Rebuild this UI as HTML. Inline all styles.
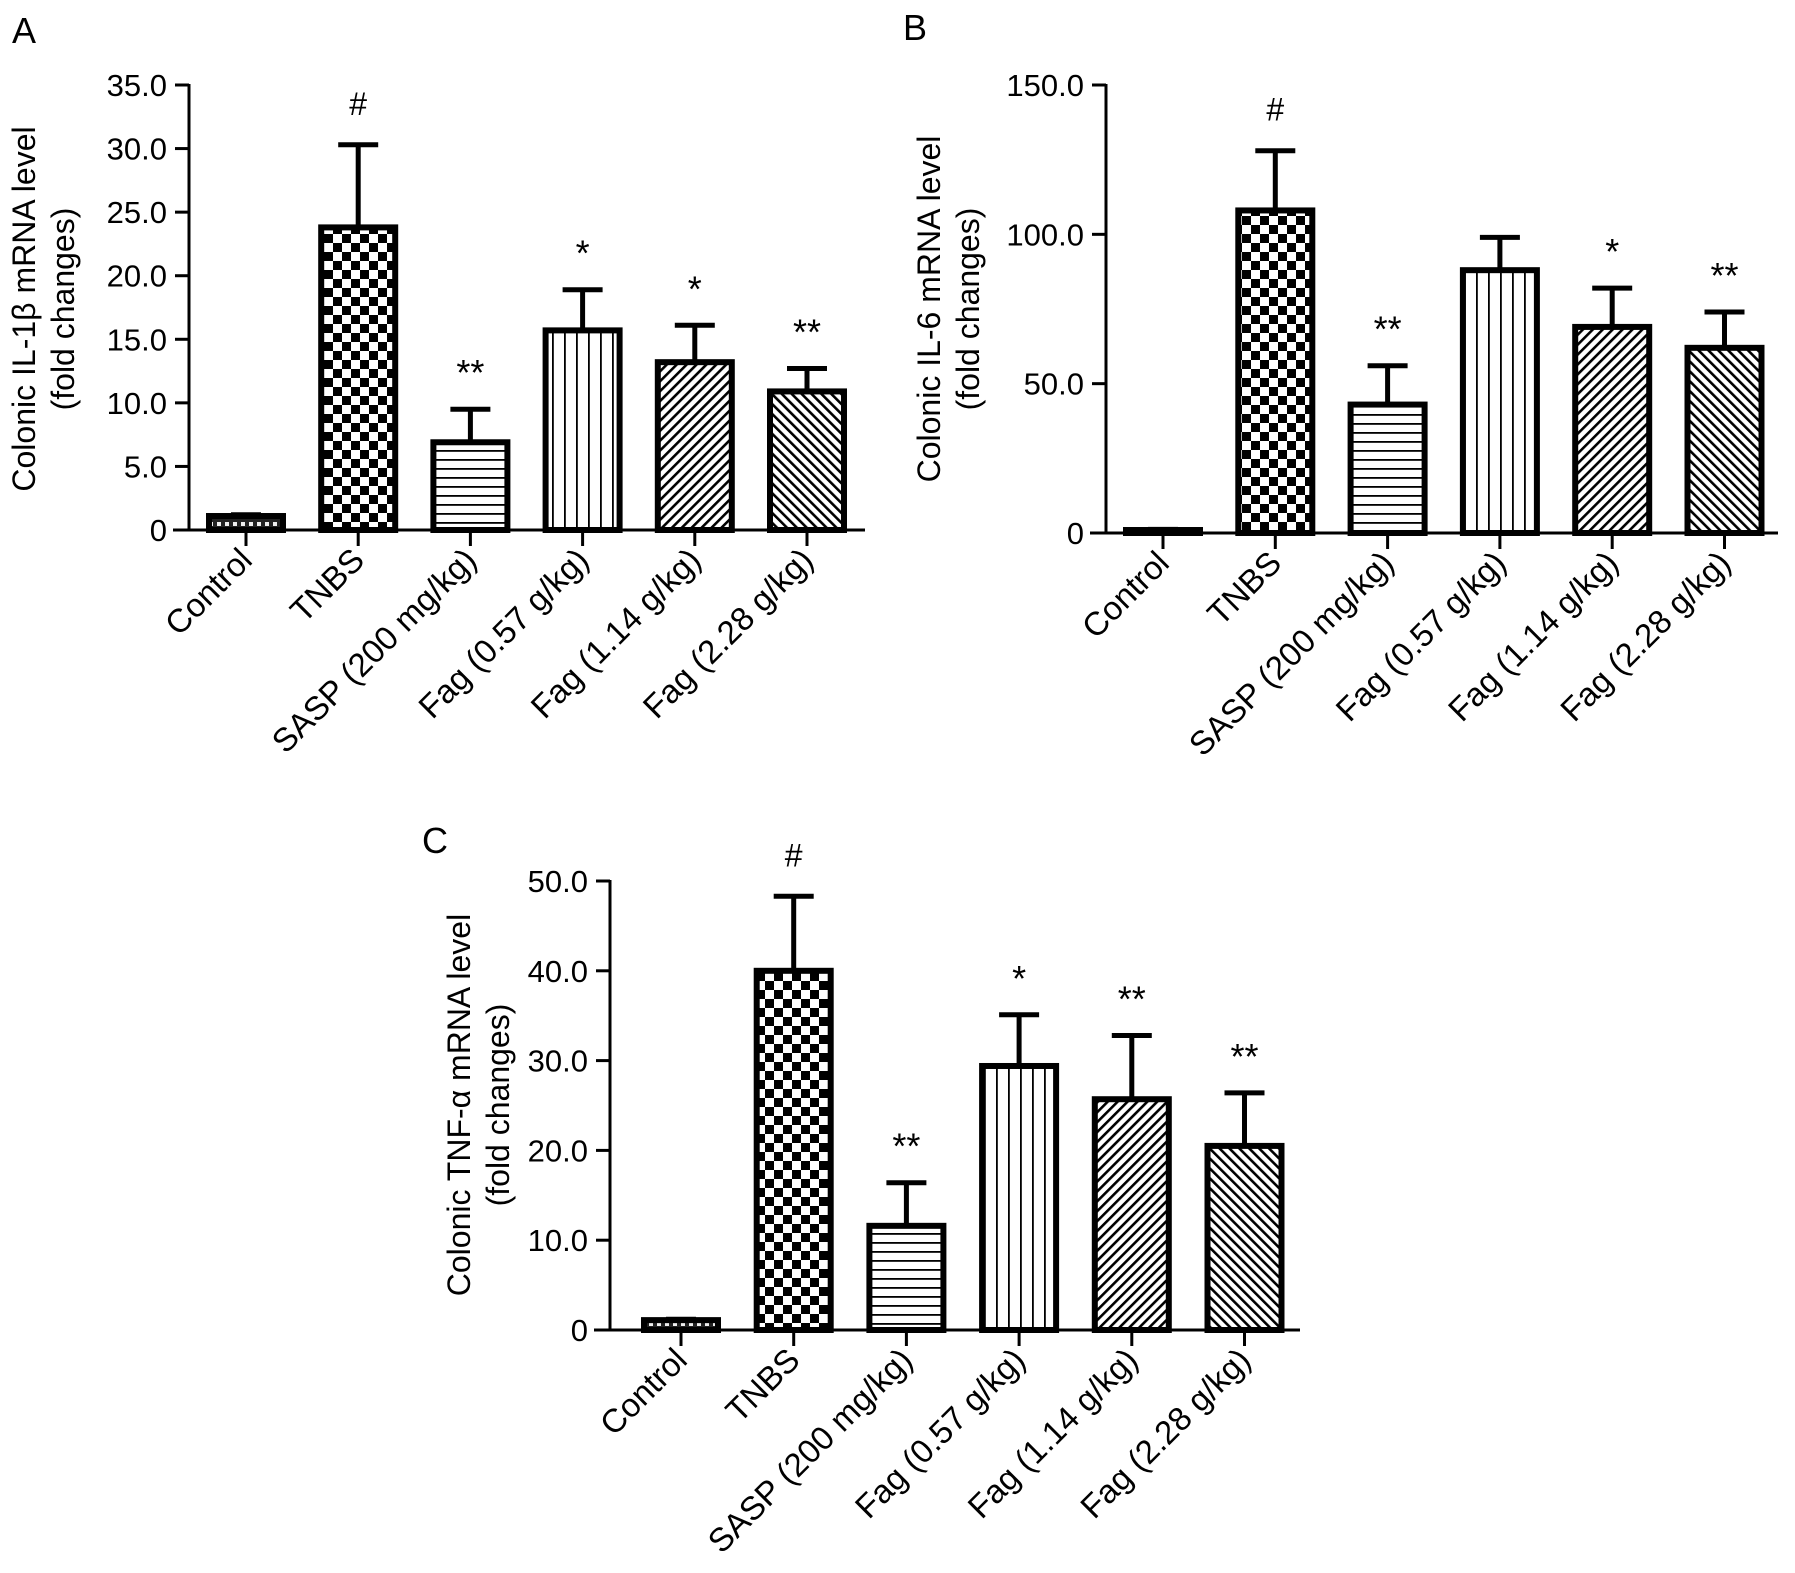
<!DOCTYPE html>
<html><head><meta charset="utf-8">
<style>
html,body{margin:0;padding:0;background:#fff;}
svg{display:block;font-family:"Liberation Sans",Arial,sans-serif;}
</style></head>
<body>
<svg id="fig" width="1795" height="1573" viewBox="0 0 1795 1573" xmlns="http://www.w3.org/2000/svg">
<defs>
<pattern id="pCtrl" width="8" height="8" patternUnits="userSpaceOnUse"><rect width="8" height="8" fill="#222"/><rect x="1" y="2" width="4" height="4" fill="#eee"/></pattern>
<pattern id="pCheck" width="18" height="18" patternUnits="userSpaceOnUse"><rect width="18" height="18" fill="#fff"/><rect width="9" height="9" fill="#000"/><rect x="9" y="9" width="9" height="9" fill="#000"/></pattern>
<pattern id="pHor" width="9" height="9" patternUnits="userSpaceOnUse"><rect width="9" height="9" fill="#fff"/><rect y="0" width="9" height="1.8" fill="#000"/></pattern>
<pattern id="pVer" width="12" height="12" patternUnits="userSpaceOnUse"><rect width="12" height="12" fill="#fff"/><rect x="0" width="1.8" height="12" fill="#000"/></pattern>
<pattern id="pFwd" width="7" height="7" patternUnits="userSpaceOnUse" patternTransform="rotate(45)"><rect width="7" height="7" fill="#fff"/><rect width="2.6" height="7" fill="#000"/></pattern>
<pattern id="pBack" width="7" height="7" patternUnits="userSpaceOnUse" patternTransform="rotate(-45)"><rect width="7" height="7" fill="#fff"/><rect width="2.6" height="7" fill="#000"/></pattern>
</defs>
</svg>
<script>
const categories = ["Control","TNBS","SASP (200 mg/kg)","Fag (0.57 g/kg)","Fag (1.14 g/kg)","Fag (2.28 g/kg)"];
const meansA = [1.1, 23.8, 6.9, 15.7, 13.2, 10.9];
const errTopA = [1.2, 30.3, 9.5, 18.9, 16.1, 12.7];
const sigA = ["", "#", "**", "*", "*", "**"];
const ticksA = [0, 5, 10, 15, 20, 25, 30, 35];
const tickLabelsA = ["0","5.0","10.0","15.0","20.0","25.0","30.0","35.0"];
const meansB = [1, 108, 43, 88, 69, 62];
const errTopB = [1.2, 128, 56, 99, 82, 74];
const sigB = ["", "#", "**", "", "*", "**"];
const ticksB = [0, 50, 100, 150];
const tickLabelsB = ["0","50.0","100.0","150.0"];
const meansC = [1.1, 40, 11.6, 29.4, 25.7, 20.5];
const errTopC = [1.2, 48.3, 16.4, 35.1, 32.8, 26.4];
const sigC = ["", "#", "**", "*", "**", "**"];
const ticksC = [0, 10, 20, 30, 40, 50];
const tickLabelsC = ["0","10.0","20.0","30.0","40.0","50.0"];
const fills = ["url(#pCtrl)","url(#pCheck)","url(#pHor)","url(#pVer)","url(#pFwd)","url(#pBack)"];

const NS = "http://www.w3.org/2000/svg";
const svg = document.getElementById("fig");
function mk(tag, attrs, parent){
  const e = document.createElementNS(NS, tag);
  for (const k in attrs) e.setAttribute(k, attrs[k]);
  (parent||svg).appendChild(e); return e;
}

function panel(o){
  const g = mk("g", {});
  
  
  const yS = v => o.y0 - (v - 0) / o.max * (o.y0 - o.yTop);
  const xS = i => o.x1 + i * o.step;
  const L = mk("text", {x:o.lx, y:o.ly, "font-size":36}, g);
  L.textContent = o.letter;
  
  
  const t = mk("text", {transform:`translate(${o.tx},${o.ty}) rotate(-90)`, "font-size":32, "text-anchor":"middle"}, g);
  
  
  const s1 = mk("tspan", {x:0, y:0}, t); s1.textContent = o.title;
  const s2 = mk("tspan", {x:0, y:39}, t); s2.textContent = "(fold changes)";
  o.means.forEach((m, i) => {
    const cx = xS(i), w = 74;
    const r = mk("rect", {x:cx - w/2, y:yS(m), width:w, height:o.y0 - yS(m), fill:fills[i], stroke:"#000", "stroke-width":6}, g);
    
    
    const e = mk("line", {x1:cx, x2:cx, y1:yS(m), y2:yS(o.err[i]), stroke:"#000", "stroke-width":5}, g);
    
    
    const cw = i === 0 ? 30 : 40;
    const c = mk("line", {x1:cx - cw/2, x2:cx + cw/2, y1:yS(o.err[i]), y2:yS(o.err[i]), stroke:"#000", "stroke-width":5}, g);
    
    
    if (o.sig[i]) {
      const st = mk("text", {x:cx, y:yS(o.err[i]) - (o.sig[i] === "#" ? 30 : 24), "font-size": o.sig[i] === "#" ? 32 : 36, "text-anchor":"middle"}, g);
      st.textContent = o.sig[i];
      
      
    }
    mk("line", {x1:cx, x2:cx, y1:o.y0, y2:o.y0 + 16, stroke:"#000", "stroke-width":3}, g);
    const lb = mk("text", {transform:`translate(${cx + 8},${o.y0 + 32}) rotate(-45)`, "font-size":33, "text-anchor":"end"}, g);
    lb.textContent = categories[i];
    
    
  });
  const ya = mk("line", {x1:o.ax, x2:o.ax, y1:o.yTop - 1, y2:o.y0 + 1.5, stroke:"#000", "stroke-width":3}, g);
  
  
  const xa = mk("line", {x1:o.ax - 16, x2:o.xEnd, y1:o.y0, y2:o.y0, stroke:"#000", "stroke-width":3}, g);
  
  
  o.ticks.forEach((v, k) => {
    mk("line", {x1:o.ax - 14, x2:o.ax, y1:yS(v), y2:yS(v), stroke:"#000", "stroke-width":3}, g);
    const tl = mk("text", {x:o.ax - 22, y:yS(v) + 11, "font-size":31, "text-anchor":"end"}, g);
    tl.textContent = o.labels[k];
    
    
  });
}

panel({id:"il1b", letter:"A", lx:12, ly:43, title:"Colonic IL-1\u03B2 mRNA level", tx:35, ty:309,
  ax:189, yTop:85, y0:530, max:35, x1:246, step:112.2, xEnd:865,
  means:meansA, err:errTopA, sig:sigA, ticks:ticksA, labels:tickLabelsA});
panel({id:"il6", letter:"B", lx:903, ly:40, title:"Colonic IL-6 mRNA level", tx:940, ty:309,
  ax:1106, yTop:85, y0:533, max:150, x1:1163, step:112.3, xEnd:1778,
  means:meansB, err:errTopB, sig:sigB, ticks:ticksB, labels:tickLabelsB});
panel({id:"tnfa", letter:"C", lx:422, ly:853, title:"Colonic TNF-\u03B1 mRNA level", tx:470, ty:1105,
  ax:610, yTop:881, y0:1330, max:50, x1:681, step:112.7, xEnd:1300,
  means:meansC, err:errTopC, sig:sigC, ticks:ticksC, labels:tickLabelsC});
</script>
</body></html>
